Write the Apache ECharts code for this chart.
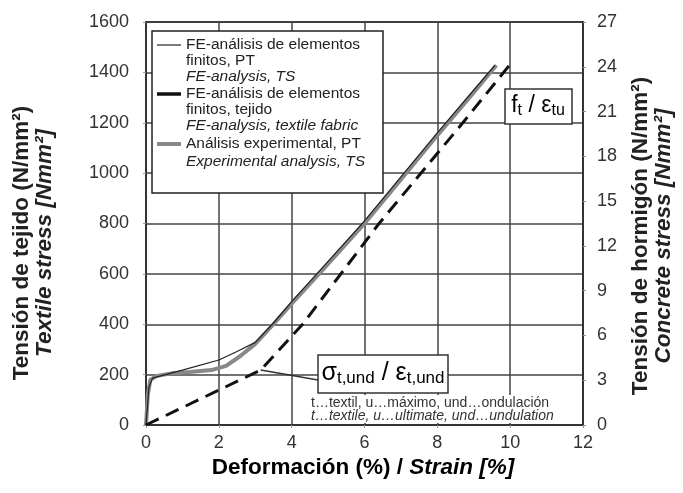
<!DOCTYPE html>
<html>
<head>
<meta charset="utf-8">
<script src="https://cdn.jsdelivr.net/npm/echarts@6/dist/echarts.min.js"></script>
<style>
  html, body { margin: 0; padding: 0; background: #fff; }
  #chart { width: 683px; height: 493px; }
</style>
</head>
<body>
<div id="chart"></div>
<script>
// Strain axis (%) and the two stress axes
const strainTicks = [0, 2, 4, 6, 8, 10, 12];
const textileStressTicks = [0, 200, 400, 600, 800, 1000, 1200, 1400, 1600];
const concreteStressTicks = [0, 3, 6, 9, 12, 15, 18, 21, 24, 27];

// FE analysis, TS (thin black line)
const strainFE_TS = [0, 0.08, 0.18, 1.0, 2.0, 2.5, 3.0, 3.5, 4.0, 5.0, 6.0, 7.0, 8.0, 9.0, 9.58];
const stressFE_TS = [0, 150, 186, 218, 258, 292, 328, 405, 490, 650, 810, 985, 1160, 1330, 1428];

// FE analysis, textile fabric (dashed black line)
const strainFE_fabric = [0, 3.15, 4.3, 6.4, 8.7, 10.0];
const stressFE_fabric = [0, 218, 400, 800, 1200, 1432];

// Experimental analysis, TS (grey line)
const strainExp = [0, 0.05, 0.12, 0.3, 0.7, 1.2, 1.8, 2.2, 2.6, 3.0, 3.5, 4.0, 5.0, 6.0, 7.0, 8.0, 9.0, 9.62];
const stressExp = [0, 120, 180, 195, 205, 210, 218, 235, 275, 322, 400, 482, 640, 800, 975, 1150, 1320, 1428];

const zip = (xs, ys) => xs.map((x, i) => [x, ys[i]]);

const FONT = '"Liberation Sans", Arial, sans-serif';
const TICK_FONT = 18;
const TITLE_FONT = 22.5;
const chart = echarts.init(document.getElementById('chart'));

const tickLabel = (margin) => ({
  color: '#333', fontSize: TICK_FONT, margin: margin, fontFamily: FONT,
  formatter: (v) => String(v)
});

const option = {
  backgroundColor: '#fff',
  animation: false,
  textStyle: { fontFamily: FONT },
  grid: { left: 146, right: 100, top: 22, bottom: 68, show: true, borderColor: '#333', borderWidth: 2 },
  xAxis: {
    type: 'value',
    min: strainTicks[0], max: strainTicks[strainTicks.length - 1], interval: 2,
    axisLine: { show: true, lineStyle: { color: '#333', width: 2 } },
    axisTick: { show: true, length: 3, lineStyle: { color: '#999' } },
    axisLabel: tickLabel(9),
    splitLine: { show: true, lineStyle: { color: '#444', width: 1.5 } }
  },
  yAxis: [
    {
      type: 'value',
      min: textileStressTicks[0], max: textileStressTicks[textileStressTicks.length - 1], interval: 200,
      axisLine: { show: true, lineStyle: { color: '#333', width: 2 } },
      axisTick: { show: true, length: 3, lineStyle: { color: '#999' } },
      axisLabel: tickLabel(17),
      splitLine: { show: true, lineStyle: { color: '#444', width: 1.5 } }
    },
    {
      type: 'value', position: 'right',
      min: concreteStressTicks[0], max: concreteStressTicks[concreteStressTicks.length - 1], interval: 3,
      axisLine: { show: true, lineStyle: { color: '#333', width: 2 } },
      axisTick: { show: true, length: 3, lineStyle: { color: '#999' } },
      axisLabel: tickLabel(14),
      splitLine: { show: false }
    }
  ],
  series: [
    {
      name: 'Análisis experimental, PT', type: 'line', data: zip(strainExp, stressExp),
      showSymbol: false, symbol: 'none', z: 2,
      lineStyle: { color: '#888', width: 4 }
    },
    {
      name: 'FE-análisis de elementos finitos, PT', type: 'line', data: zip(strainFE_TS, stressFE_TS),
      showSymbol: false, symbol: 'none', z: 3,
      lineStyle: { color: '#222', width: 1.2 }
    },
    {
      name: 'FE-análisis de elementos finitos, tejido', type: 'line', data: zip(strainFE_fabric, stressFE_fabric),
      showSymbol: false, symbol: 'none', z: 4,
      lineStyle: { color: '#111', width: 3, type: [14, 8] }
    }
  ]
};
chart.setOption(option);

// Leader line from the undulation point of the fabric curve to its label box
const undPt = chart.convertToPixel({ gridIndex: 0 }, [strainFE_fabric[1], stressFE_fabric[1]]);

const legendText = (x, y, t, italic) => ({
  type: 'text', x: x, y: y, z: 20,
  style: { text: t, fontFamily: FONT, fontSize: 15.5, fontStyle: italic ? 'italic' : 'normal',
           fill: '#222', verticalAlign: 'middle' }
});
const legendLine = (y, color, w) => ({
  type: 'line', z: 20, shape: { x1: 157, y1: y, x2: 181, y2: y },
  style: { stroke: color, lineWidth: w }
});

const subRich = (big, small, drop) => ({
  m: { fontSize: big, fontFamily: FONT, color: '#222' },
  s: { fontSize: small, fontFamily: FONT, color: '#222', padding: [drop, 0, 0, 0] }
});

const rotTitle = (x, y, t, italic) => ({
  type: 'text', x: x, y: y, rotation: Math.PI / 2, z: 20,
  style: { text: t, fontFamily: FONT, fontSize: TITLE_FONT, fontWeight: 'bold', fontStyle: italic ? 'italic' : 'normal',
           fill: '#222', align: 'center', verticalAlign: 'middle' }
});

chart.setOption({
  graphic: [
    // y-axis titles
    rotTitle(22, 243, 'Tensión de tejido (N/mm²)'),
    rotTitle(45, 243, 'Textile stress [Nmm²]', true),
    rotTitle(641, 236, 'Tensión de hormigón (N/mm²)'),
    rotTitle(664, 236, 'Concrete stress [Nmm²]', true),
    // x-axis title
    {
      type: 'text', x: 363, y: 468, z: 20,
      style: {
        text: '{a|Deformación (%) / }{b|Strain [%]}',
        align: 'center', verticalAlign: 'middle',
        rich: {
          a: { fontFamily: FONT, fontSize: TITLE_FONT, fontWeight: 'bold', color: '#222' },
          b: { fontFamily: FONT, fontSize: TITLE_FONT, fontWeight: 'bold', fontStyle: 'italic', color: '#222' }
        }
      }
    },
    // legend box
    {
      type: 'rect', z: 19, shape: { x: 152, y: 31, width: 231, height: 162 },
      style: { fill: '#fff', stroke: '#222', lineWidth: 1.5 }
    },
    legendLine(45, '#222', 1.2),
    legendText(186, 45, 'FE-análisis de elementos'),
    legendText(186, 61, 'finitos, PT'),
    legendText(186, 77, 'FE-analysis, TS', true),
    legendLine(94, '#111', 3.5),
    legendText(186, 94, 'FE-análisis de elementos'),
    legendText(186, 110, 'finitos, tejido'),
    legendText(186, 126, 'FE-analysis, textile fabric', true),
    legendLine(144, '#888', 4),
    legendText(186, 144, 'Análisis experimental, PT'),
    legendText(186, 162, 'Experimental analysis, TS', true),
    // ultimate point label
    {
      type: 'rect', z: 19, shape: { x: 505, y: 89, width: 67, height: 35 },
      style: { fill: '#fff', stroke: '#333', lineWidth: 1.5 }
    },
    {
      type: 'text', z: 20, x: 538, y: 106,
      style: {
        text: '{m|f}{s|t}{m| / ε}{s|tu}', align: 'center', verticalAlign: 'middle', rich: subRich(23, 16, 10)
      }
    },
    // undulation point label
    {
      type: 'line', z: 18, shape: { x1: undPt[0], y1: undPt[1], x2: 318, y2: 380 },
      style: { stroke: '#333', lineWidth: 1.5 }
    },
    {
      type: 'rect', z: 19, shape: { x: 318, y: 355, width: 130, height: 38 },
      style: { fill: '#fff', stroke: '#333', lineWidth: 1.5 }
    },
    {
      type: 'text', z: 20, x: 383, y: 373,
      style: {
        text: '{m|σ}{s|t,und}{m| / ε}{s|t,und}', align: 'center', verticalAlign: 'middle', rich: subRich(25, 17, 11)
      }
    },
    // index explanation below the label
    {
      type: 'rect', z: 18, shape: { x: 307, y: 395, width: 256, height: 28 },
      style: { fill: '#fff', stroke: null }
    },
    {
      type: 'text', z: 20, x: 311, y: 403,
      style: { text: 't…textil, u…máximo, und…ondulación', fontFamily: FONT, fontSize: 14,
               fill: '#333', verticalAlign: 'middle' }
    },
    {
      type: 'text', z: 20, x: 311, y: 416,
      style: { text: 't…textile, u…ultimate, und…undulation', fontFamily: FONT, fontSize: 14, fontStyle: 'italic',
               fill: '#333', verticalAlign: 'middle' }
    }
  ]
});
</script>
</body>
</html>
